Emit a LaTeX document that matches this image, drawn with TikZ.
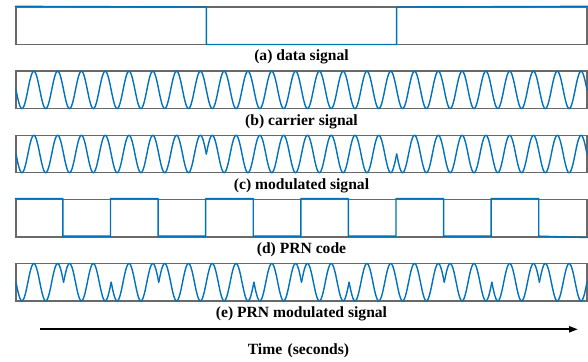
\documentclass[tikz,border=0pt]{standalone}
\usepackage{fontspec}
\setmainfont{Liberation Serif}
\usetikzlibrary{arrows.meta}

\definecolor{sigblue}{RGB}{0,114,189}
\definecolor{framegray}{RGB}{105,105,105}

\begin{document}
\begin{tikzpicture}[x=1pt,y=-1pt]

		\tikzset{
			box/.style={
				draw=framegray,
				line width=1.4pt,
				minimum width=571pt,
				minimum height=37.5pt,
				inner sep=0pt
			},
			wave/.style={
				draw=sigblue,
				line width=1.4pt,
				line join=round,
				line cap=round
			},
			caption/.style={
				font=\bfseries\fontsize{15.6}{18}\selectfont,
				inner sep=0pt
			}
		}

		\useasboundingbox (0,0) rectangle (588,361);

		\def\per{23.7917}
		\def\amp{18.75}

		% frames
		\node[box] (data) at (301.5,25.8) {};
		\node[box] (carrier) at (301.5,89.9) {};
		\node[box] (modul) at (301.5,154.0) {};
		\node[box] (prn) at (301.5,218.1) {};
		\node[box] (prnmod) at (301.5,282.2) {};

		% data signal
		\draw[wave] (data.north west) -- (206.33,7.05) -- (206.33,44.55)
			-- (396.67,44.55) -- (396.67,7.05) -- (data.north east);

		% carrier
		\draw[wave] plot[domain=16:587,samples=600,smooth]
			(\x,{89.9+\amp*sin((\x-16)/\per*360)});

		% data times carrier
		\foreach \s [count=\i from 0] in {1,-1,1} {
			\pgfmathsetmacro\xa{16+8*\i*\per}
			\pgfmathsetmacro\xb{16+8*(\i+1)*\per}
			\draw[wave] plot[domain=\xa:\xb,samples=200,smooth]
				(\x,{154.0+\s*\amp*sin((\x-16)/\per*360)});
		}

		% PRN code
		\draw[wave] (prn.north west)
			\foreach \i in {1,...,11} {
				-- ++(2*\per,0) -- ++(0,{37.5*(1-2*mod(\i+1,2))})
			} -- (prn.south east);

		% PRN times data times carrier
		\foreach \s [count=\i from 0] in {1,-1,1,-1,-1,1,-1,1,1,-1,1,-1} {
			\pgfmathsetmacro\xa{16+2*\i*\per}
			\pgfmathsetmacro\xb{16+2*(\i+1)*\per}
			\draw[wave] plot[domain=\xa:\xb,samples=50,smooth]
				(\x,{282.2+\s*\amp*sin((\x-16)/\per*360)});
		}

		\node[caption] (capa) at (301.5,57.3) {(a) data signal};
		\node[caption] (capb) at (301.5,121.6) {(b) carrier signal};
		\node[caption] (capc) at (301.5,185.6) {(c) modulated signal};
		\node[caption] (capd) at (301.5,249.8) {(d) PRN code};
		\node[caption] (cape) at (301.5,313.8) {(e) PRN modulated signal};

		\coordinate (tstart) at (40,329.3);
		\coordinate (tend) at (578,329.3);
		\draw[line width=2pt,-{Triangle[length=9pt,width=6pt]}] (tstart) -- (tend);

		\node[caption] (time) at (298.5,350.5) {Time\hspace{0.35em}(seconds)};

	\end{tikzpicture}
\end{document}
